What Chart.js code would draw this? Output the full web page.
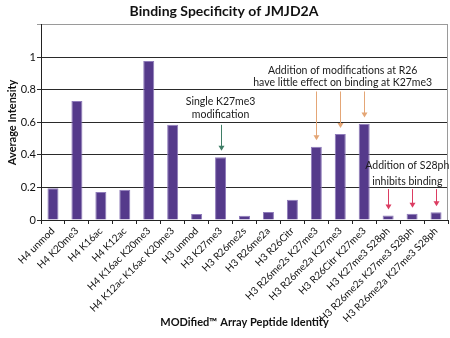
<!DOCTYPE html>
<html>
<head>
<meta charset="utf-8">
<script src="https://cdn.jsdelivr.net/npm/chart.js@4.4.1/dist/chart.umd.min.js"></script>
<style>
  html, body { margin: 0; padding: 0; background: #fff; }
  #wrap { width: 450px; height: 338px; }
</style>
</head>
<body>
<div id="wrap"><canvas id="c" width="450" height="338"></canvas></div>
<script>
// Peptides on the array
const peptides = [
  'H4 unmod', 'H4 K20me3', 'H4 K16ac', 'H4 K12ac', 'H4 K16ac K20me3',
  'H4 K12ac K16ac K20me3', 'H3 unmod', 'H3 K27me3', 'H3 R26me2s',
  'H3 R26me2a', 'H3 R26Citr', 'H3 R26me2s K27me3', 'H3 R26me2a K27me3',
  'H3 R26Citr K27me3', 'H3 K27me3 S28ph', 'H3 R26me2s K27me3 S28ph',
  'H3 R26me2a K27me3 S28ph'
];

// Average signal intensity per peptide
const intensity = [
  0.195, 0.732, 0.172, 0.186, 0.977, 0.585, 0.037, 0.386, 0.026,
  0.049, 0.125, 0.450, 0.528, 0.592, 0.028, 0.039, 0.047
];

// Value-axis ticks (the top line at 1.2 carries no label)
const yTicks = [0, 0.2, 0.4, 0.6, 0.8, 1, 1.2];

// Callout notes: text lines
const noteSingle = ['Single K27me3', 'modification'];
const noteR26 = ['Addition of modifications at R26', 'have little effect on binding at K27me3'];
const noteS28 = ['Addition of S28ph', 'inhibits binding'];

// Arrows: bar index, start value, tip value
const arrowsSingle = [[7, 0.585, 0.425]];
const arrowsR26 = [[11, 0.79, 0.49], [12, 0.79, 0.565], [13, 0.79, 0.63]];
const arrowsS28 = [[14, 0.19, 0.065], [15, 0.19, 0.075], [16, 0.19, 0.085]];

const FONT = 'Lato, "Open Sans", sans-serif';

const calloutPlugin = {
  id: 'callouts',
  afterDatasetsDraw(chart) {
    const ctx = chart.ctx;
    const x = chart.scales.x, y = chart.scales.y;
    const area = chart.chartArea;
    ctx.save();
    // right frame line
    ctx.strokeStyle = '#9a9a9a';
    ctx.lineWidth = 1;
    ctx.beginPath();
    ctx.moveTo(Math.round(area.right) - 0.5, area.top);
    ctx.lineTo(Math.round(area.right) - 0.5, area.bottom);
    ctx.stroke();

    function text(lines, xi, yv1, yv2) {
      ctx.fillStyle = '#1a1a1a';
      ctx.font = '10.5px ' + FONT;
      ctx.textAlign = 'center';
      ctx.textBaseline = 'middle';
      const px = x.getPixelForValue(xi);
      ctx.fillText(lines[0], px, y.getPixelForValue(yv1));
      ctx.fillText(lines[1], px, y.getPixelForValue(yv2));
    }
    function arrows(list, color) {
      ctx.strokeStyle = color;
      ctx.fillStyle = color;
      ctx.lineWidth = 1;
      list.forEach(([i, v0, v1]) => {
        const px = Math.round(x.getPixelForValue(i)) + 0.5;
        const y0 = y.getPixelForValue(v0);
        const y1 = y.getPixelForValue(v1);
        ctx.beginPath();
        ctx.moveTo(px, y0);
        ctx.lineTo(px, y1 - 4);
        ctx.stroke();
        ctx.beginPath();
        ctx.moveTo(px - 3, y1 - 5);
        ctx.lineTo(px + 3, y1 - 5);
        ctx.lineTo(px, y1);
        ctx.closePath();
        ctx.fill();
      });
    }
    text(noteSingle, 7, 0.726, 0.646);
    text(noteR26, 12.1, 0.92, 0.846);
    text(noteS28, 14.8, 0.335, 0.237);
    arrows(arrowsSingle, '#3f7d66');
    arrows(arrowsR26, '#e4a676');
    arrows(arrowsS28, '#dc3d62');
    ctx.restore();
  }
};

new Chart(document.getElementById('c'), {
  type: 'bar',
  data: {
    labels: peptides,
    datasets: [{
      data: intensity,
      backgroundColor: '#553a8b',
      borderColor: '#8f7cba',
      borderWidth: 1,
      barPercentage: 0.46,
      categoryPercentage: 1
    }]
  },
  options: {
    responsive: false,
    animation: false,
    layout: { padding: { top: 0, right: 2, bottom: 0, left: 0 } },
    plugins: {
      legend: { display: false },
      tooltip: { enabled: false },
      title: {
        display: true,
        text: 'Binding Specificity of JMJD2A',
        color: '#111',
        font: { family: FONT, size: 14, weight: 'bold' },
        padding: { top: 3, bottom: 5 }
      }
    },
    scales: {
      x: {
        offset: true,
        grid: { offset: true, drawOnChartArea: false, drawTicks: true, tickLength: 4, color: '#222' },
        border: { display: true, color: '#222', width: 1 },
        ticks: {
          color: '#111',
          font: { family: FONT, size: 10 },
          minRotation: 45,
          maxRotation: 45,
          autoSkip: false,
          padding: 1
        },
        title: {
          display: true,
          text: 'MODified\u2122 Array Peptide Identity',
          color: '#111',
          font: { family: FONT, size: 11, weight: 'bold' },
          padding: { top: 0, bottom: 9 }
        },
        afterFit(scale) { scale.height = 118; }
      },
      y: {
        min: 0,
        max: 1.2,
        afterBuildTicks(scale) { scale.ticks = yTicks.map(v => ({ value: v })); },
        grid: {
          color: ctx => (ctx.tick && ctx.tick.value === 1.2) ? '#9a9a9a' : '#2a2a2a',
          tickLength: 4,
          drawTicks: true
        },
        border: { display: true, color: '#222', width: 1 },
        ticks: {
          color: '#111',
          font: { family: FONT, size: 11 },
          padding: 1,
          callback: v => (v === 1.2 ? '' : String(+v.toFixed(1)))
        },
        title: {
          display: true,
          text: 'Average Intensity',
          color: '#111',
          font: { family: FONT, size: 11, weight: 'bold' },
          padding: { top: 6, bottom: 2 }
        },
        afterFit(scale) { scale.width = 41; }
      }
    }
  },
  plugins: [calloutPlugin]
});
</script>
</body>
</html>
